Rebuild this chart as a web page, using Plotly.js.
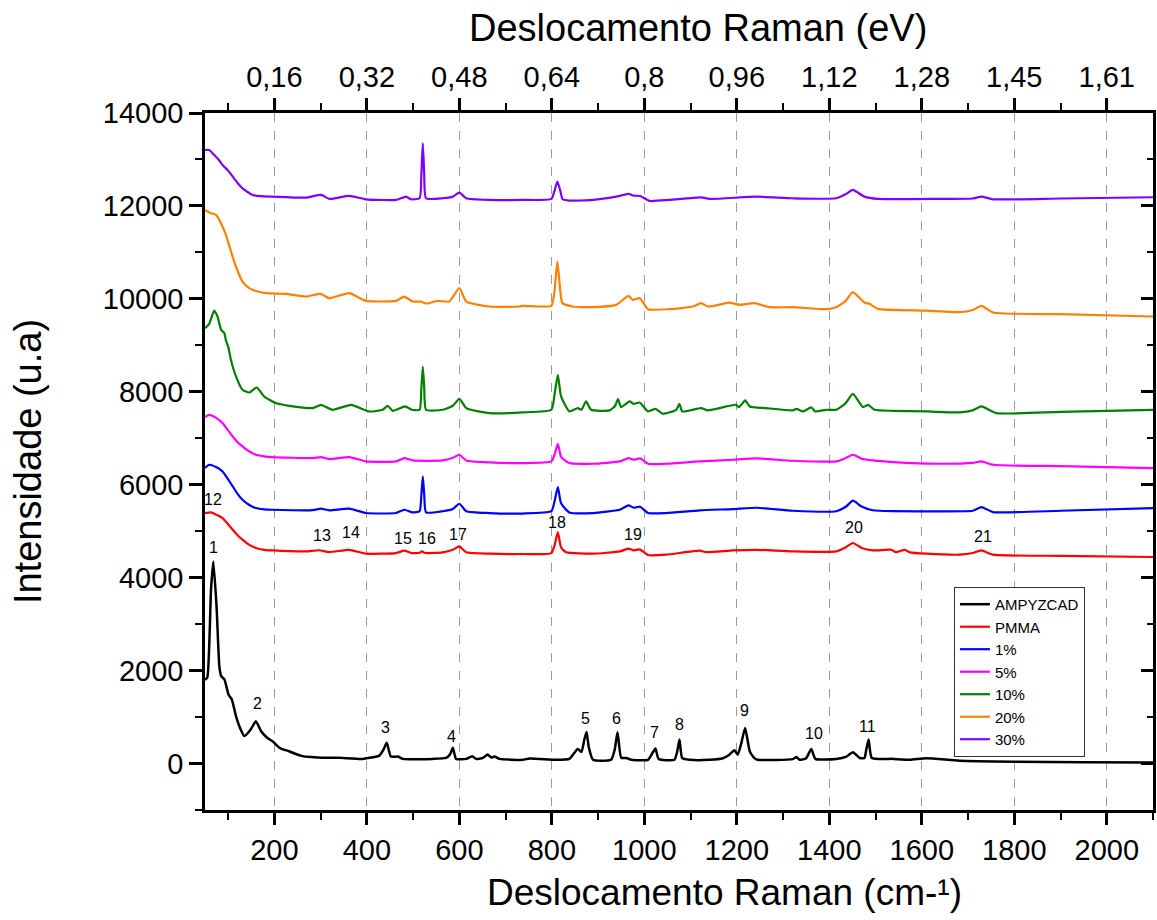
<!DOCTYPE html>
<html>
<head>
<meta charset="utf-8">
<script src="https://cdn.plot.ly/plotly-3.0.1.min.js"></script>
<style>html,body{margin:0;padding:0;background:#fff;}#chart{width:1157px;height:920px;}</style>
</head>
<body>
<div id="chart"></div>
<script>
// ---------- data ----------
const ampyzcadX = [50, 55, 63, 68, 75, 81, 85, 92, 101, 108, 117, 126, 135, 148, 160, 171, 185, 196, 211, 220, 232, 245, 261, 280, 304, 340, 391, 427, 436, 443, 452, 467, 478, 542, 571, 580, 586, 593, 615, 628, 636, 651, 661, 669, 676, 687, 737, 752, 809, 838, 856, 864, 870, 875, 880, 889, 928, 936, 942, 950, 961, 972, 1008, 1017, 1024, 1031, 1065, 1071, 1076, 1082, 1098, 1141, 1170, 1184, 1195, 1202, 1210, 1218, 1228, 1238, 1245, 1321, 1329, 1336, 1350, 1361, 1370, 1415, 1437, 1451, 1466, 1476, 1480, 1485, 1492, 1538, 1574, 1610, 1682, 1800, 1950, 2100];
const ampyzcadY = [1800, 1850, 3740, 4350, 3380, 2090, 1880, 1810, 1480, 1380, 1020, 760, 590, 720, 910, 700, 550, 480, 340, 300, 265, 210, 160, 140, 125, 125, 100, 170, 300, 445, 150, 150, 100, 100, 120, 200, 337, 100, 100, 157, 100, 120, 193, 130, 150, 100, 80, 110, 80, 100, 315, 250, 500, 680, 350, 80, 80, 300, 674, 125, 120, 80, 80, 215, 322, 100, 80, 250, 516, 115, 80, 80, 115, 190, 287, 190, 450, 767, 265, 115, 80, 95, 140, 80, 115, 315, 100, 100, 150, 244, 120, 120, 300, 516, 120, 100, 80, 115, 60, 40, 30, 20];

const pmmaX = [50, 63, 74, 88, 99, 110, 120, 131, 145, 160, 178, 196, 268, 297, 319, 362, 398, 463, 481, 497, 514, 519, 526, 564, 586, 600, 615, 665, 737, 799, 806, 813, 820, 831, 889, 947, 966, 977, 990, 1008, 1047, 1120, 1134, 1192, 1243, 1321, 1415, 1435, 1451, 1470, 1494, 1534, 1544, 1563, 1574, 1610, 1682, 1710, 1729, 1754, 1900, 2100];
const pmmaY = [5390, 5405, 5355, 5283, 5160, 5032, 4920, 4817, 4710, 4638, 4600, 4587, 4566, 4590, 4550, 4600, 4516, 4530, 4580, 4530, 4535, 4566, 4530, 4545, 4600, 4674, 4545, 4516, 4509, 4530, 4700, 4982, 4650, 4545, 4516, 4566, 4624, 4587, 4610, 4487, 4495, 4580, 4550, 4587, 4600, 4566, 4566, 4650, 4746, 4640, 4587, 4600, 4550, 4600, 4545, 4516, 4495, 4530, 4587, 4495, 4470, 4445];

const p1X = [50, 59, 74, 88, 99, 110, 120, 131, 145, 160, 178, 196, 283, 301, 319, 362, 398, 463, 481, 499, 514, 518, 521, 524, 528, 564, 586, 600, 615, 665, 737, 799, 806, 813, 820, 838, 889, 947, 966, 977, 991, 1008, 1047, 1120, 1192, 1243, 1321, 1415, 1435, 1451, 1470, 1494, 1538, 1638, 1710, 1729, 1754, 1900, 2100];
const p1Y = [6359, 6430, 6380, 6286, 6130, 5963, 5810, 5677, 5570, 5498, 5470, 5462, 5452, 5484, 5450, 5484, 5391, 5391, 5462, 5405, 5430, 5800, 6178, 5800, 5405, 5430, 5480, 5591, 5430, 5391, 5380, 5430, 5650, 5950, 5600, 5405, 5391, 5462, 5556, 5505, 5527, 5391, 5391, 5450, 5477, 5505, 5440, 5430, 5520, 5656, 5530, 5450, 5430, 5427, 5440, 5520, 5412, 5440, 5498];

const p5X = [50, 59, 74, 88, 99, 110, 120, 131, 145, 160, 178, 196, 283, 301, 319, 362, 398, 463, 481, 499, 564, 586, 600, 615, 665, 737, 799, 806, 813, 820, 838, 889, 947, 966, 977, 991, 1008, 1047, 1120, 1192, 1243, 1321, 1415, 1435, 1451, 1470, 1494, 1538, 1638, 1710, 1729, 1754, 1900, 2100];
const p5Y = [7455, 7505, 7440, 7326, 7180, 7039, 6920, 6824, 6720, 6645, 6610, 6595, 6573, 6595, 6552, 6595, 6502, 6502, 6573, 6523, 6523, 6580, 6645, 6523, 6480, 6466, 6502, 6650, 6882, 6600, 6466, 6452, 6502, 6573, 6538, 6566, 6452, 6452, 6502, 6538, 6566, 6516, 6502, 6570, 6645, 6560, 6523, 6488, 6452, 6470, 6502, 6430, 6400, 6359];

const p10X = [50, 59, 70, 77, 85, 92, 95, 101, 106, 117, 131, 146, 162, 178, 203, 232, 283, 301, 326, 366, 405, 434, 445, 456, 483, 497, 514, 518, 521, 524, 528, 564, 586, 600, 615, 665, 737, 799, 806, 813, 820, 838, 856, 864, 874, 885, 925, 937, 943, 950, 968, 977, 990, 1008, 1024, 1040, 1069, 1076, 1082, 1123, 1138, 1198, 1205, 1218, 1228, 1263, 1321, 1329, 1343, 1361, 1370, 1393, 1415, 1435, 1451, 1473, 1484, 1498, 1538, 1610, 1682, 1710, 1729, 1761, 1900, 2100];
const p10Y = [9369, 9462, 9749, 9620, 9333, 9262, 9118, 8940, 8688, 8330, 8043, 7985, 8093, 7899, 7757, 7699, 7649, 7720, 7613, 7720, 7577, 7613, 7699, 7590, 7685, 7613, 7613, 8100, 8545, 8100, 7613, 7613, 7700, 7849, 7649, 7541, 7556, 7613, 7950, 8366, 7900, 7577, 7649, 7613, 7792, 7613, 7600, 7700, 7842, 7670, 7792, 7742, 7770, 7577, 7634, 7527, 7613, 7742, 7577, 7649, 7600, 7720, 7670, 7814, 7685, 7649, 7600, 7634, 7577, 7663, 7577, 7613, 7613, 7750, 7957, 7670, 7720, 7613, 7590, 7577, 7556, 7600, 7685, 7541, 7570, 7613];

const p20X = [50, 63, 74, 88, 95, 103, 110, 117, 124, 131, 142, 153, 182, 225, 268, 300, 319, 362, 398, 463, 481, 499, 517, 521, 530, 553, 578, 600, 615, 665, 730, 737, 799, 805, 812, 819, 823, 845, 889, 939, 966, 975, 990, 1008, 1054, 1105, 1123, 1138, 1170, 1184, 1206, 1238, 1271, 1321, 1393, 1415, 1435, 1451, 1476, 1487, 1505, 1610, 1682, 1710, 1729, 1754, 1900, 2100];
const p20Y = [11914, 11843, 11806, 11555, 11380, 11125, 10900, 10695, 10520, 10372, 10260, 10194, 10122, 10108, 10050, 10108, 10015, 10122, 9957, 9957, 10050, 9943, 9943, 9921, 9900, 9957, 9943, 10230, 9943, 9835, 9835, 9850, 9850, 10100, 10802, 10100, 9907, 9835, 9821, 9871, 10065, 9978, 10015, 9778, 9778, 9835, 9907, 9835, 9893, 9921, 9871, 9907, 9821, 9821, 9778, 9821, 9950, 10144, 9921, 9893, 9785, 9749, 9713, 9760, 9849, 9706, 9670, 9620];

const p30X = [50, 59, 70, 80, 88, 100, 110, 120, 131, 142, 153, 170, 196, 268, 301, 319, 362, 398, 463, 485, 495, 514, 518, 521, 524, 528, 564, 586, 600, 615, 665, 737, 799, 805, 812, 819, 823, 838, 889, 939, 966, 977, 991, 1011, 1054, 1123, 1141, 1243, 1321, 1415, 1435, 1451, 1476, 1505, 1638, 1710, 1729, 1754, 1900, 2100];
const p30Y = [13204, 13204, 13097, 12990, 12882, 12760, 12631, 12500, 12380, 12300, 12237, 12210, 12200, 12179, 12237, 12151, 12215, 12143, 12129, 12200, 12143, 12165, 12700, 13348, 12700, 12165, 12165, 12200, 12287, 12165, 12129, 12129, 12151, 12300, 12523, 12300, 12151, 12115, 12129, 12200, 12258, 12222, 12215, 12108, 12129, 12186, 12151, 12200, 12165, 12165, 12250, 12344, 12200, 12151, 12151, 12160, 12200, 12143, 12160, 12187];

const seriesNames = ["AMPYZCAD", "PMMA", "1%", "5%", "10%", "20%", "30%"];
const seriesColors = ["#000000", "#ff0000", "#0000ff", "#ff00ff", "#008000", "#ff8000", "#8000ff"];

const peakLabels = ["1","2","3","4","5","6","7","8","9","10","11","12","13","14","15","16","17","18","19","20","21"];
const peakLabelX = [68, 163, 440, 583, 873, 940, 1022, 1076, 1217, 1366, 1483, 68, 302, 366, 479, 531, 598, 812, 976, 1454, 1732];
const peakLabelY = [4645, 1290, 774, 581, 968, 968, 667, 839, 1140, 645, 796, 5677, 4903, 4968, 4839, 4839, 4925, 5183, 4925, 5075, 4882];

const cmTickStep = 200;
const eVTickPositions = [200, 400, 600, 800, 1000, 1200, 1400, 1600, 1800, 2000];
const eVTickLabels = ["0,16", "0,32", "0,48", "0,64", "0,8", "0,96", "1,12", "1,28", "1,45", "1,61"];
const eVMinorPositions = [100, 300, 500, 700, 900, 1100, 1300, 1500, 1700, 1900];

// ---------- build ----------
const FONT = "Arial, 'Liberation Sans', sans-serif";
const xs = [ampyzcadX, pmmaX, p1X, p5X, p10X, p20X, p30X];
const ys = [ampyzcadY, pmmaY, p1Y, p5Y, p10Y, p20Y, p30Y];

const traces = seriesNames.map((name, i) => ({
  type: "scatter", mode: "lines", name: name,
  x: xs[i], y: ys[i],
  line: {color: seriesColors[i], width: i === 0 ? 2.5 : 2.2, shape: "spline", smoothing: 0.5},
  hoverinfo: "x+y+name"
}));
// empty trace so that the mirror axes (top eV axis and right axis) are created
traces.push({type: "scatter", mode: "lines", x: [], y: [], xaxis: "x2", yaxis: "y2", showlegend: false, hoverinfo: "skip"});

const annotations = peakLabels.map((t, i) => ({
  text: t, x: peakLabelX[i], y: peakLabelY[i], xref: "x", yref: "y",
  showarrow: false, font: {family: FONT, size: 16, color: "#000"},
  xanchor: "center", yanchor: "middle"
}));
annotations.push({
  text: "Deslocamento Raman (cm-¹)", xref: "paper", yref: "paper",
  x: 0.548, y: -0.119, showarrow: false, xanchor: "center", yanchor: "middle",
  font: {family: FONT, size: 37, color: "#000"}
});
annotations.push({
  text: "Deslocamento Raman (eV)", xref: "paper", yref: "paper",
  x: 0.52, y: 1.122, showarrow: false, xanchor: "center", yanchor: "middle",
  font: {family: FONT, size: 38, color: "#000"}
});

const axisCommon = {
  showline: true, linecolor: "#000", linewidth: 2.5,
  tickcolor: "#000", tickwidth: 2.5, zeroline: false
};

const layout = {
  width: 1157, height: 920,
  margin: {l: 205, r: 4, t: 113, b: 110, pad: 0},
  paper_bgcolor: "#fff", plot_bgcolor: "#fff",
  font: {family: FONT, color: "#000"},
  showlegend: true,
  legend: {
    x: 0.79, y: 0.32, xanchor: "left", yanchor: "top",
    bgcolor: "#fff", bordercolor: "#333", borderwidth: 1,
    font: {family: FONT, size: 15, color: "#000"},
    tracegroupgap: 0
  },
  xaxis: Object.assign({}, axisCommon, {
    range: [50, 2100], tick0: 0, dtick: cmTickStep, ticks: "outside", ticklen: 12,
    tickfont: {family: FONT, size: 29, color: "#000"},
    showgrid: true, gridcolor: "#9a9a9a", gridwidth: 1, griddash: "dash",
    minor: {tick0: 0, dtick: cmTickStep / 2, ticks: "outside", ticklen: 7, tickwidth: 2, tickcolor: "#000", showgrid: false}
  }),
  yaxis: Object.assign({}, axisCommon, {
    range: [-1000, 14000], tick0: 0, dtick: 2000, ticks: "outside", ticklen: 13,
    tickformat: "d",
    tickfont: {family: FONT, size: 29, color: "#000"},
    showgrid: false,
    title: {text: "Intensidade (u.a)", font: {family: FONT, size: 38, color: "#000"}, standoff: 50},
    minor: {tick0: 0, dtick: 1000, ticks: "outside", ticklen: 7, tickwidth: 2, tickcolor: "#000", showgrid: false}
  }),
  xaxis2: Object.assign({}, axisCommon, {
    overlaying: "x", side: "top", anchor: "y2",
    range: [50, 2100], tickmode: "array", tickvals: eVTickPositions, ticktext: eVTickLabels,
    ticks: "outside", ticklen: 12,
    tickfont: {family: FONT, size: 29, color: "#000"},
    showgrid: false,
    minor: {tickmode: "array", tickvals: eVMinorPositions, ticks: "outside", ticklen: 7, tickwidth: 2, tickcolor: "#000", showgrid: false}
  }),
  yaxis2: Object.assign({}, axisCommon, {
    overlaying: "y", side: "right", anchor: "x2",
    range: [-1000, 14000], tick0: 0, dtick: 2000, ticks: "inside", ticklen: 12,
    showticklabels: false, showgrid: false,
    minor: {tick0: 0, dtick: 1000, ticks: "inside", ticklen: 6, tickwidth: 2, tickcolor: "#000", showgrid: false}
  }),
  annotations: annotations
};

Plotly.newPlot("chart", traces, layout, {displayModeBar: false, responsive: false});
</script>
</body>
</html>
